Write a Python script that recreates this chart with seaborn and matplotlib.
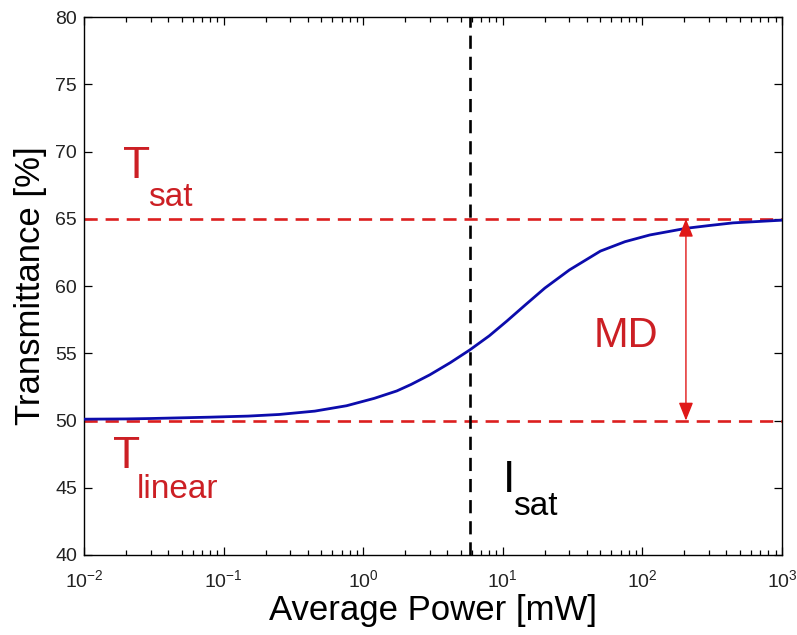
import matplotlib
matplotlib.use("Agg")
import matplotlib.pyplot as plt
import seaborn as sns
import pandas as pd
from matplotlib.ticker import LogLocator, NullFormatter

# ---- data ----
power_mw = [0.01, 0.02, 0.03, 0.08, 0.15, 0.25, 0.45, 0.76, 1.2, 1.74, 2.2, 3.0,
            4.2, 5.8, 8.0, 10.7, 14.5, 20.0, 30.0, 50.0, 75.0, 113.0, 207.0,
            300.0, 446.0, 1000.0]
transmittance = [50.1, 50.12, 50.15, 50.25, 50.33, 50.45, 50.7, 51.1, 51.65, 52.2,
                 52.68, 53.4, 54.3, 55.25, 56.3, 57.4, 58.6, 59.85, 61.2, 62.6,
                 63.3, 63.8, 64.3, 64.5, 64.7, 64.9]
t_sat_level = 65.0
t_linear_level = 50.0
i_sat_mw = 5.8
md_power_mw = 205.0
y_ticks = [40, 45, 50, 55, 60, 65, 70, 75, 80]

df = pd.DataFrame({"power": power_mw, "T": transmittance})

sns.set_theme(style="ticks")
plt.rcParams["font.family"] = ["Liberation Sans", "DejaVu Sans"]
plt.rcParams["mathtext.fontset"] = "custom"
plt.rcParams["mathtext.rm"] = "Liberation Sans"
plt.rcParams["mathtext.it"] = "Liberation Sans:italic"
plt.rcParams["mathtext.bf"] = "Liberation Sans:bold"
plt.rcParams["text.color"] = "black"
plt.rcParams["axes.labelcolor"] = "black"

red_line = "#dc1f1f"
red_text = "#cc1f24"
blue = "#0c0cac"

fig = plt.figure(figsize=(7.97, 6.35), dpi=100)
ax = fig.add_axes([0.1054, 0.126, 0.8758, 0.847])

ax.axhline(t_sat_level, color=red_line, lw=1.9, dashes=(5.0, 3.0), zorder=2)
ax.axhline(t_linear_level, color=red_line, lw=1.9, dashes=(5.0, 3.0), zorder=2)
ax.axvline(i_sat_mw, color="black", lw=1.9, dashes=(5.0, 3.0), zorder=2)

sns.lineplot(data=df, x="power", y="T", ax=ax, color=blue, lw=2.0, zorder=3)

ax.annotate("", xy=(md_power_mw, t_sat_level), xytext=(md_power_mw, t_linear_level),
            arrowprops=dict(arrowstyle="<|-|>,head_length=0.55,head_width=0.22",
                            color="#e01818", lw=1.0, mutation_scale=20,
                            shrinkA=0, shrinkB=0), zorder=4)

ax.set_xscale("log")
ax.set_xlim(1e-2, 1e3)
ax.set_ylim(40, 80)
ax.set_yticks(y_ticks)
ax.xaxis.set_major_locator(LogLocator(base=10, numticks=10))
ax.xaxis.set_minor_locator(LogLocator(base=10, subs=range(2, 10), numticks=20))
ax.xaxis.set_minor_formatter(NullFormatter())

ax.tick_params(which="both", direction="in", top=True, right=True, colors="black",
               labelcolor="#222222", labelsize=14, width=0.9)
ax.tick_params(which="major", length=6)
ax.tick_params(which="minor", length=3.5)
ax.tick_params(axis="x", pad=10)
ax.tick_params(axis="y", pad=5)
for s in ax.spines.values():
    s.set_linewidth(1.0)
    s.set_color("black")

ax.set_xlabel("Average Power [mW]", fontsize=25, labelpad=2)
ax.set_ylabel("Transmittance [%]", fontsize=25, labelpad=6)

tr = ax.transAxes
ax.text(0.0559, 0.7007, "T", transform=tr, fontsize=32, color=red_text, va="baseline")
ax.text(0.0917, 0.6487, "sat", transform=tr, fontsize=24, color=red_text, va="baseline")
ax.text(0.0415, 0.1617, "T", transform=tr, fontsize=32, color=red_text, va="baseline")
ax.text(0.0759, 0.106, "linear", transform=tr, fontsize=24, color=red_text, va="baseline")
ax.text(0.600, 0.117, "I", transform=tr, fontsize=32, color="black", va="baseline")
ax.text(0.6146, 0.0743, "sat", transform=tr, fontsize=24, color="black", va="baseline")
ax.text(0.730, 0.3866, "MD", transform=tr, fontsize=30, color=red_text, va="baseline")

fig.savefig("out.png", dpi=100)
